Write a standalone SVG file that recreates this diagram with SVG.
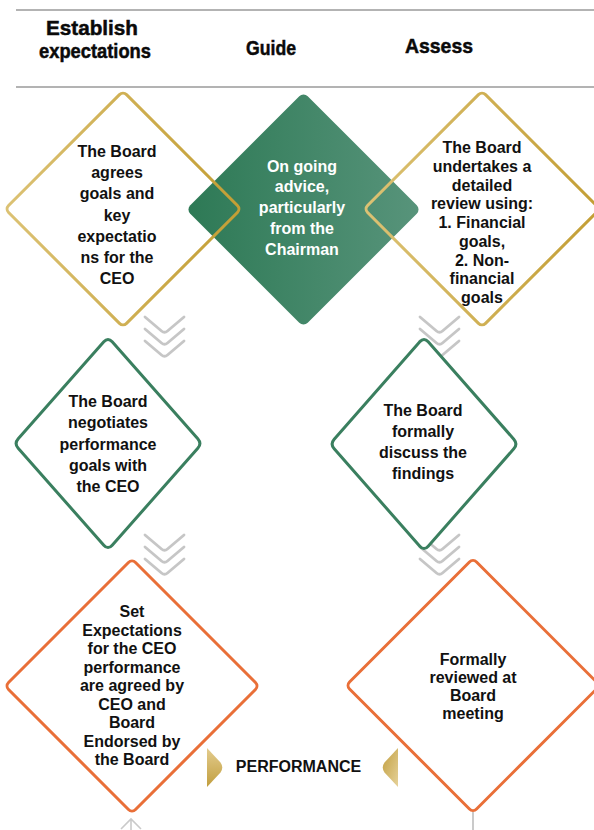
<svg xmlns="http://www.w3.org/2000/svg" width="594" height="830" viewBox="0 0 594 830">
  <defs>
    <style>
      .head { font-family: "Liberation Sans", Arial, sans-serif; font-weight: 700; font-size: 21px; fill: #0a0a0a; stroke: #0a0a0a; stroke-width: 0.5; text-anchor: middle; }
      .lbl { font-family: "Liberation Sans", Arial, sans-serif; font-weight: 700; font-size: 16px; fill: #111; text-anchor: middle; }
      .lbl-w { fill: #ffffff; }
      .rule { stroke: #9a9a9a; stroke-width: 1.5; fill: none; }
      .gold { fill: none; stroke: url(#goldStroke); stroke-width: 3; }
      .green { fill: #ffffff; stroke: #3a7f5f; stroke-width: 3; }
      .orange { fill: #ffffff; stroke: #e96f38; stroke-width: 3; }
      .chev { fill: none; stroke: #c6c6c6; stroke-width: 2.8; stroke-linecap: round; stroke-linejoin: round; }
      .thin { fill: none; stroke: #cacaca; stroke-width: 1.6; }
    </style>
    <linearGradient id="goldStroke" x1="0" y1="1" x2="1" y2="0">
      <stop offset="0" stop-color="#dcc274"/>
      <stop offset="1" stop-color="#c39e34"/>
    </linearGradient>
    <linearGradient id="greenFill" x1="0" y1="1" x2="1" y2="0">
      <stop offset="0" stop-color="#2d7955"/>
      <stop offset="1" stop-color="#58947b"/>
    </linearGradient>
    <linearGradient id="goldTriL" x1="0" y1="0" x2="0" y2="1">
      <stop offset="0" stop-color="#e3cc8e"/>
      <stop offset="1" stop-color="#c19e3e"/>
    </linearGradient>
    <linearGradient id="goldTriR" x1="0" y1="0" x2="1" y2="1">
      <stop offset="0" stop-color="#c19e3e"/>
      <stop offset="1" stop-color="#e6d29a"/>
    </linearGradient>
    <path id="chevron" d="M0,0 L16.5,14 Q19.5,16.6 22.5,14 L39,0"/>
  </defs>

  <!-- column header -->
  <g id="header">
    <line class="rule" x1="16" y1="10" x2="594" y2="10"/>
    <line class="rule" x1="16" y1="87" x2="594" y2="87"/>
    <text class="head" x="92" y="35" textLength="92" lengthAdjust="spacingAndGlyphs">Establish</text>
    <text class="head" x="95" y="58" textLength="112" lengthAdjust="spacingAndGlyphs">expectations</text>
    <text class="head" x="271" y="54.5" textLength="50" lengthAdjust="spacingAndGlyphs">Guide</text>
    <text class="head" x="439" y="52.5" textLength="68" lengthAdjust="spacingAndGlyphs">Assess</text>
  </g>

  <!-- flow chevrons and bottom links -->
  <g id="connectors">
    <use href="#chevron" class="chev" x="145" y="317"/>
    <use href="#chevron" class="chev" x="145" y="329"/>
    <use href="#chevron" class="chev" x="145" y="341"/>
    <use href="#chevron" class="chev" x="420" y="317"/>
    <use href="#chevron" class="chev" x="420" y="329"/>
    <use href="#chevron" class="chev" x="420" y="341"/>
    <use href="#chevron" class="chev" x="145" y="535"/>
    <use href="#chevron" class="chev" x="145" y="547"/>
    <use href="#chevron" class="chev" x="145" y="559"/>
    <use href="#chevron" class="chev" x="420" y="535"/>
    <use href="#chevron" class="chev" x="420" y="547"/>
    <use href="#chevron" class="chev" x="420" y="559"/>
    <path class="thin" d="M131,819 L131,830 M121,829 L131,819 L141,829"/>
    <line x1="473" y1="812" x2="473" y2="830" stroke="#cacaca" stroke-width="2"/>
  </g>

  <!-- guide: ongoing advice -->
  <g id="node-guide">
    <rect x="-83.1" y="-83.1" width="166.2" height="166.2" rx="6" fill="url(#greenFill)" transform="translate(303.5,209.5) rotate(45)"/>
    <text class="lbl lbl-w" x="302" y="171.5">On going</text>
    <text class="lbl lbl-w" x="302" y="192.3">advice,</text>
    <text class="lbl lbl-w" x="302" y="213.1">particularly</text>
    <text class="lbl lbl-w" x="302" y="233.9">from the</text>
    <text class="lbl lbl-w" x="302" y="254.7">Chairman</text>
  </g>

  <!-- establish: agree goals -->
  <g id="node-agree">
    <rect class="gold" x="-83.4" y="-83.4" width="166.8" height="166.8" rx="5" transform="translate(123,209) rotate(45)"/>
    <text class="lbl" x="117" y="157">The Board</text>
    <text class="lbl" x="117" y="178.2">agrees</text>
    <text class="lbl" x="117" y="199.4">goals and</text>
    <text class="lbl" x="117" y="220.6">key</text>
    <text class="lbl" x="117" y="241.8">expectatio</text>
    <text class="lbl" x="117" y="263">ns for the</text>
    <text class="lbl" x="117" y="284.2">CEO</text>
  </g>

  <!-- assess: detailed review -->
  <g id="node-review">
    <rect class="gold" x="-83.4" y="-83.4" width="166.8" height="166.8" rx="5" transform="translate(482,209) rotate(45)"/>
    <text class="lbl" x="482" y="153">The Board</text>
    <text class="lbl" x="482" y="171.8">undertakes a</text>
    <text class="lbl" x="482" y="190.5">detailed</text>
    <text class="lbl" x="482" y="209.3">review using:</text>
    <text class="lbl" x="482" y="228">1. Financial</text>
    <text class="lbl" x="482" y="246.8">goals,</text>
    <text class="lbl" x="482" y="265.5">2. Non-</text>
    <text class="lbl" x="482" y="284.3">financial</text>
    <text class="lbl" x="482" y="303">goals</text>
  </g>

  <!-- establish: negotiate goals -->
  <g id="node-negotiate">
    <path class="green" d="M103.8,341.8 Q108,337 112.2,341.8 L197.8,438.7 Q202,443.5 197.8,448.3 L112.2,545.2 Q108,550 103.8,545.2 L18.2,448.3 Q14,443.5 18.2,438.7 Z"/>
    <text class="lbl" x="108" y="407">The Board</text>
    <text class="lbl" x="108" y="428.3">negotiates</text>
    <text class="lbl" x="108" y="449.6">performance</text>
    <text class="lbl" x="108" y="470.9">goals with</text>
    <text class="lbl" x="108" y="492.2">the CEO</text>
  </g>

  <!-- assess: discuss findings -->
  <g id="node-discuss">
    <path class="green" d="M419.8,341.8 Q424,337 428.2,341.8 L513.8,439.2 Q518,444 513.8,448.8 L428.2,546.2 Q424,551 419.8,546.2 L334.2,448.8 Q330,444 334.2,439.2 Z"/>
    <text class="lbl" x="423" y="416">The Board</text>
    <text class="lbl" x="423" y="437">formally</text>
    <text class="lbl" x="423" y="458">discuss the</text>
    <text class="lbl" x="423" y="479">findings</text>
  </g>

  <!-- establish: expectations set -->
  <g id="node-set">
    <rect class="orange" x="-89.8" y="-89.8" width="179.6" height="179.6" rx="5" transform="translate(132,686) rotate(45)"/>
    <text class="lbl" x="132" y="617">Set</text>
    <text class="lbl" x="132" y="635.5">Expectations</text>
    <text class="lbl" x="132" y="654">for the CEO</text>
    <text class="lbl" x="132" y="672.5">performance</text>
    <text class="lbl" x="132" y="691">are agreed by</text>
    <text class="lbl" x="132" y="709.5">CEO and</text>
    <text class="lbl" x="132" y="728">Board</text>
    <text class="lbl" x="132" y="746.5">Endorsed by</text>
    <text class="lbl" x="132" y="765">the Board</text>
  </g>

  <!-- assess: board meeting -->
  <g id="node-meeting">
    <rect class="orange" x="-89.8" y="-89.8" width="179.6" height="179.6" rx="5" transform="translate(473,685.5) rotate(45)"/>
    <text class="lbl" x="473" y="665">Formally</text>
    <text class="lbl" x="473" y="683">reviewed at</text>
    <text class="lbl" x="473" y="701">Board</text>
    <text class="lbl" x="473" y="719">meeting</text>
  </g>

  <!-- performance label with pointers -->
  <g id="performance">
    <path d="M207,748 L220.5,762.5 Q224,767.5 220.5,772.5 L207,787 Z" fill="url(#goldTriL)"/>
    <path d="M398,748 L384.5,762.5 Q381,767.5 384.5,772.5 L398,787 Z" fill="url(#goldTriR)"/>
    <text class="lbl" x="298.5" y="772">PERFORMANCE</text>
  </g>
</svg>
